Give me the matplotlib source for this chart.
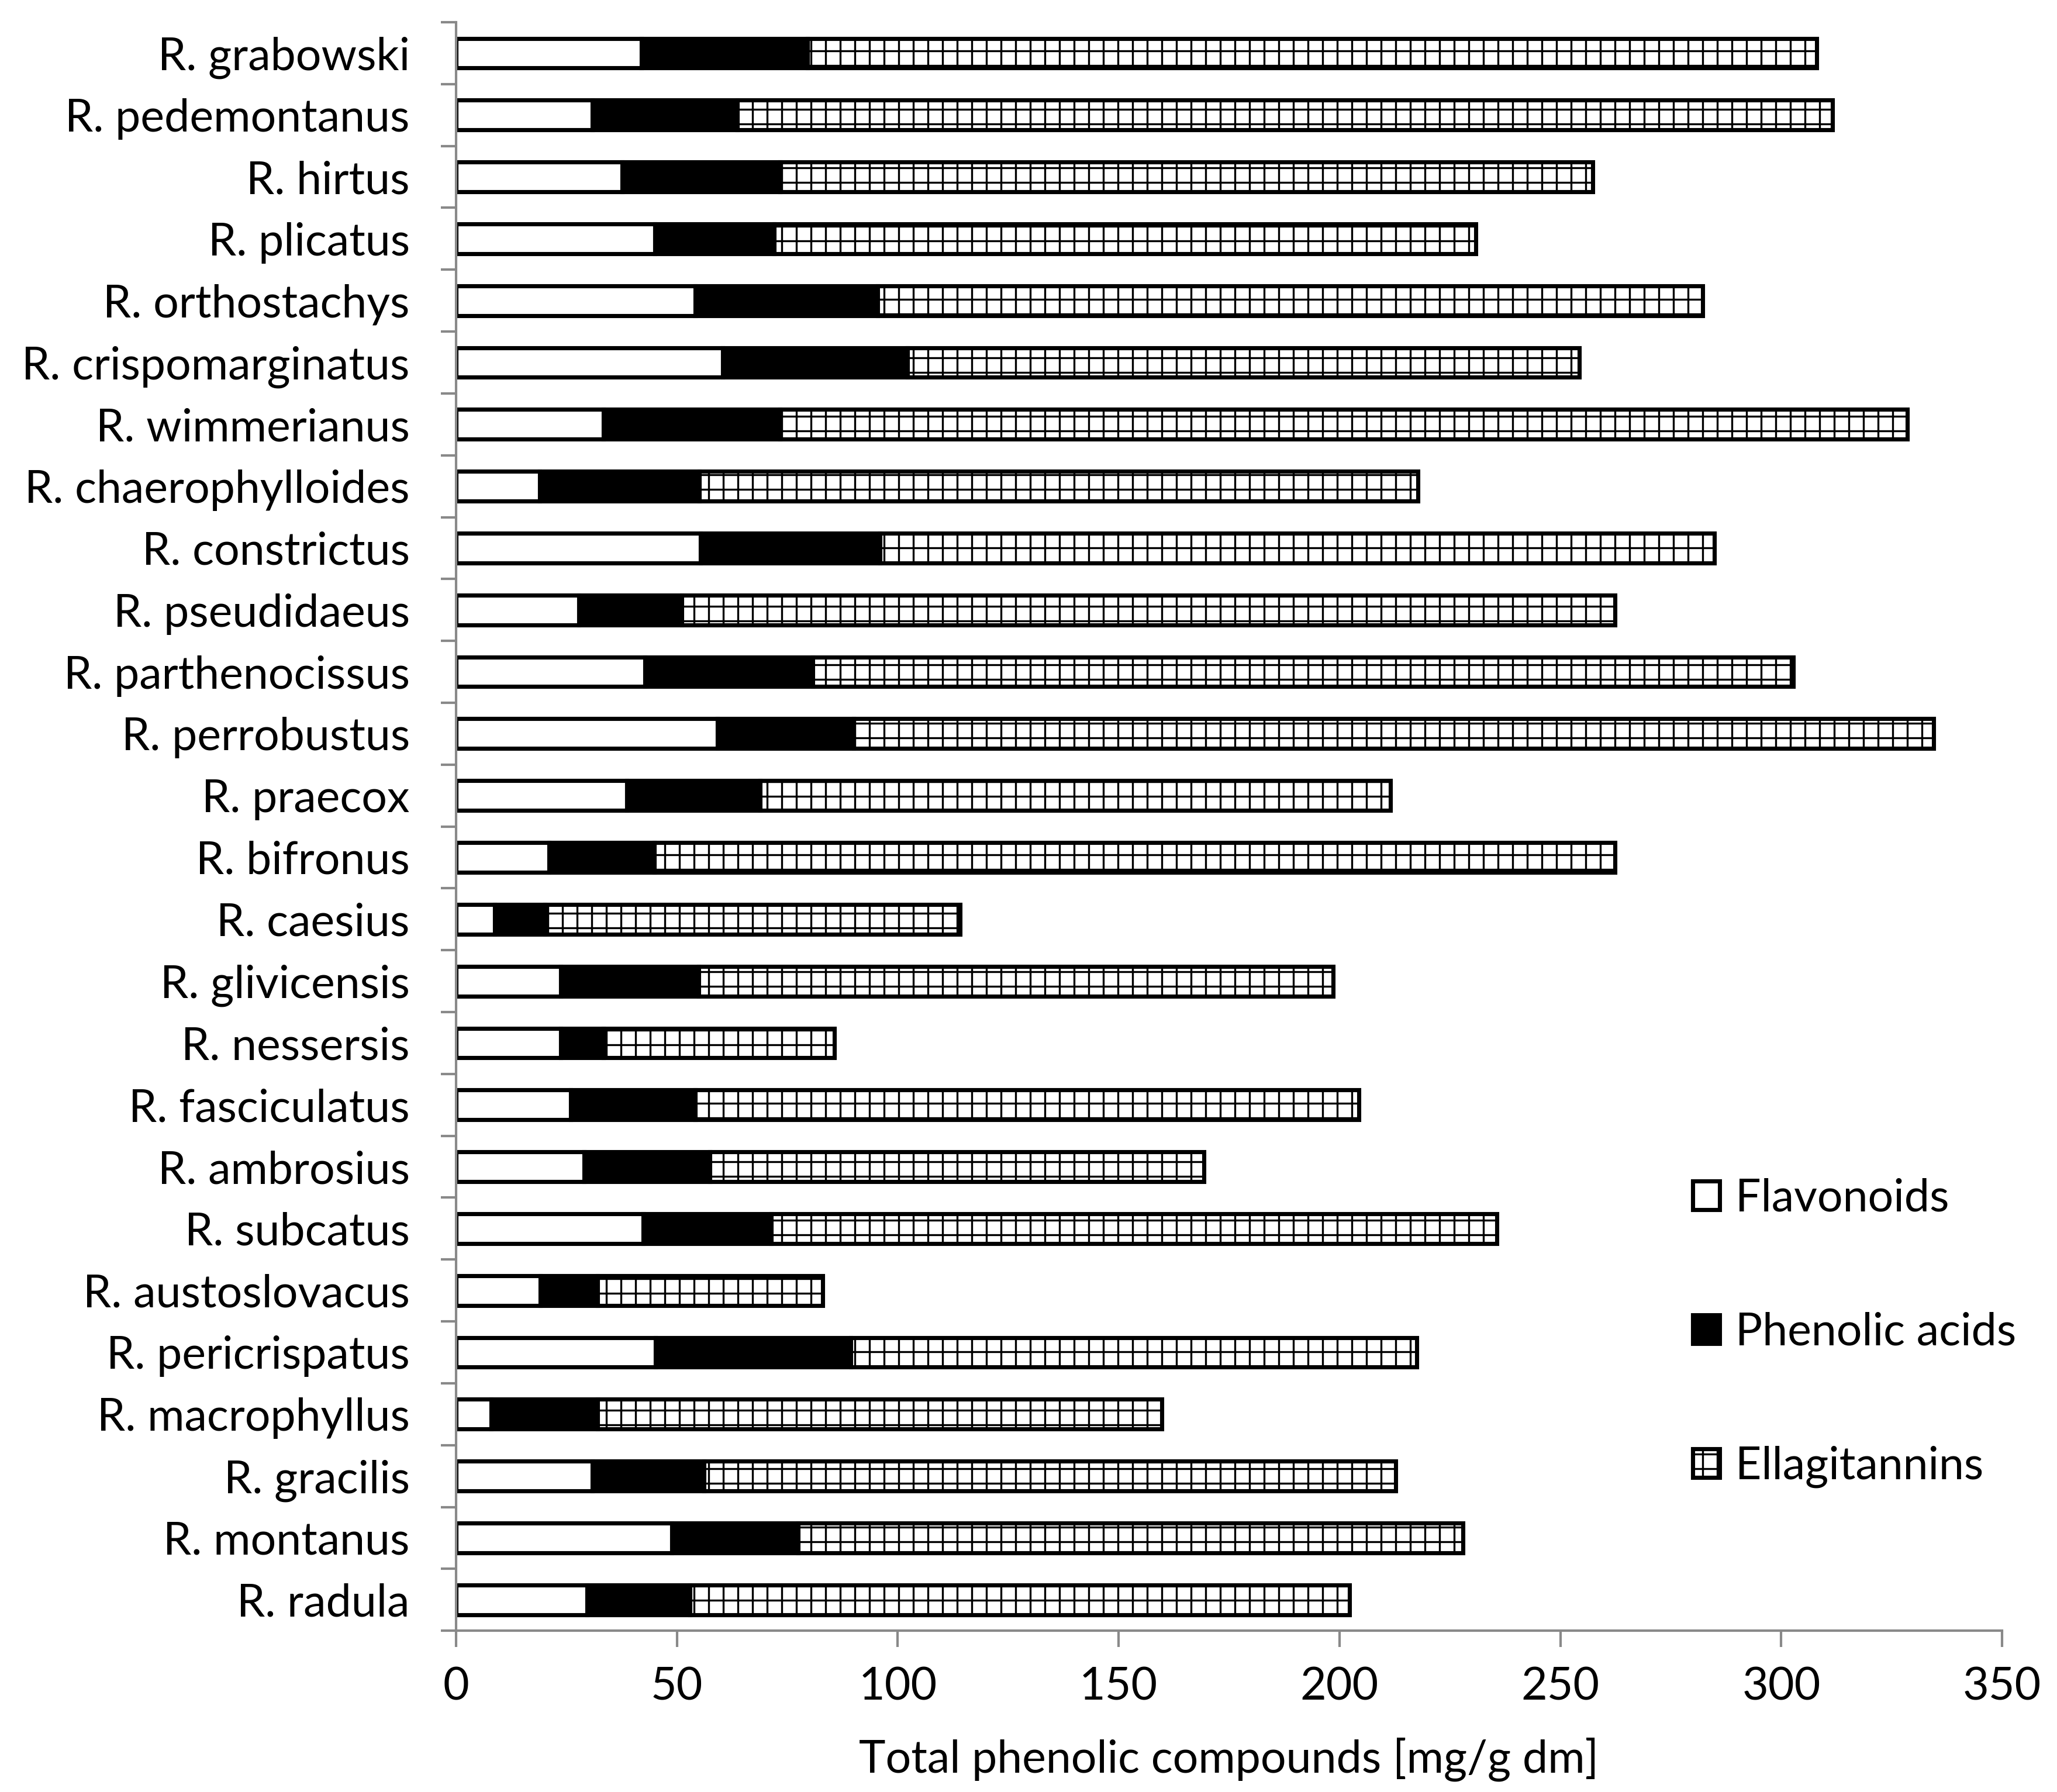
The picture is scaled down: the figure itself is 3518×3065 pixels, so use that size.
import numpy as np
import matplotlib
matplotlib.use("Agg")
import matplotlib.pyplot as plt
from matplotlib.patches import Patch

# species listed from top to bottom of the chart
species = ["R. grabowski", "R. pedemontanus", "R. hirtus", "R. plicatus",
           "R. orthostachys", "R. crispomarginatus", "R. wimmerianus",
           "R. chaerophylloides", "R. constrictus", "R. pseudidaeus",
           "R. parthenocissus", "R. perrobustus", "R. praecox", "R. bifronus",
           "R. caesius", "R. glivicensis", "R. nessersis", "R. fasciculatus",
           "R. ambrosius", "R. subcatus", "R. austoslovacus", "R. pericrispatus",
           "R. macrophyllus", "R. gracilis", "R. montanus", "R. radula"]

flavonoids = [42.0, 30.9, 37.6, 45.0, 54.2, 60.4, 33.4, 18.9, 55.3, 27.8,
              42.8, 59.2, 38.7, 21.1, 8.8, 23.7, 23.7, 25.9, 29.0, 42.3,
              19.1, 45.1, 8.0, 30.9, 48.9, 29.7]
phenolic_acids = [37.5, 32.8, 35.8, 27.0, 41.3, 41.8, 40.0, 36.2, 40.7, 23.3,
                  37.9, 30.8, 30.1, 23.8, 11.3, 31.3, 9.7, 28.3, 28.4, 29.1,
                  13.0, 44.2, 24.1, 25.2, 28.5, 23.3]
ellagitannins = [228.5, 247.9, 183.9, 158.8, 186.7, 152.1, 255.2, 162.7, 188.9, 211.2,
                 222.0, 244.5, 142.7, 217.4, 94.0, 143.5, 52.2, 150.2, 111.9, 164.2,
                 50.9, 128.2, 127.7, 156.6, 150.5, 149.3]

x_ticks = [0, 50, 100, 150, 200, 250, 300, 350]

plt.rcParams['font.family'] = ['Lato', 'DejaVu Sans']
plt.rcParams['hatch.linewidth'] = 0.8

fig = plt.figure(figsize=(3518 / 300, 3065 / 300), dpi=300)
ax = fig.add_axes([0.2217, 0.0900, 0.7516, 0.8976])

n = len(species)
y = np.arange(n)[::-1]
flav = np.array(flavonoids)
phen = np.array(phenolic_acids)
ell = np.array(ellagitannins)
h = 0.48
lw = 1.7
fs = 18.5

ax.barh(y, flav, height=h, color="white", edgecolor="black", linewidth=lw)
ax.barh(y, phen, left=flav, height=h, color="black", edgecolor="black", linewidth=lw)
ax.barh(y, ell, left=flav + phen, height=h, color="white", edgecolor="black",
        linewidth=lw, hatch="++")

ax.set_xlim(0, 350)
ax.set_ylim(-0.5, n - 0.5)
ax.set_xticks(x_ticks)
ax.set_yticks(np.arange(-0.5, n, 1.0))
ax.set_yticklabels([])
ax.set_yticks(y, minor=True)
ax.set_yticklabels(species, minor=True)

grey = "#898989"
for side in ["top", "right"]:
    ax.spines[side].set_visible(False)
for side in ["left", "bottom"]:
    ax.spines[side].set_color(grey)
    ax.spines[side].set_linewidth(1.0)

ax.tick_params(axis="y", which="major", direction="out", length=6.2, width=1.0, color=grey)
ax.tick_params(axis="y", which="minor", length=0, pad=19, labelsize=fs)
ax.tick_params(axis="x", direction="out", length=6.7, width=1.0, color=grey,
               pad=8, labelsize=fs)

ax.set_xlabel("Total phenolic compounds [mg/g dm]", fontsize=fs, labelpad=12)

handles = [Patch(facecolor="white", edgecolor="black", linewidth=lw),
           Patch(facecolor="black", edgecolor="black", linewidth=lw),
           Patch(facecolor="white", edgecolor="black", linewidth=lw, hatch="++")]
ax.legend(handles, ["Flavonoids", "Phenolic acids", "Ellagitannins"],
          loc="center left", bbox_to_anchor=(0.80, 0.185), frameon=False,
          fontsize=fs, labelspacing=2.05, handlelength=0.6, handleheight=0.6,
          handletextpad=0.35, borderaxespad=0, borderpad=0)

fig.savefig("out.png", dpi=300)
